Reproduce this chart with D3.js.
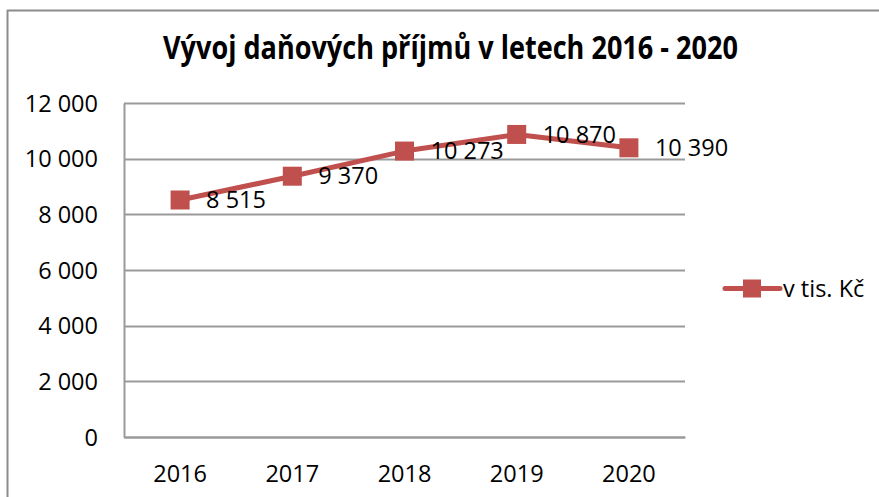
<!DOCTYPE html>
<html><head><meta charset="utf-8">
<script src="https://cdn.jsdelivr.net/npm/d3@7"></script>
<style>
html,body{margin:0;padding:0;background:#fff;}
svg text{font-family:"Open Sans","DejaVu Sans",sans-serif;fill:#000;}
</style></head>
<body>
<svg id="chart" width="879" height="497"></svg>
<script>
const title = "Vývoj daňových příjmů v letech 2016 - 2020";
const categories = ["2016", "2017", "2018", "2019", "2020"];
const values = [8515, 9370, 10273, 10870, 10390];
const seriesName = "v tis. Kč";
const yTicks = [0, 2000, 4000, 6000, 8000, 10000, 12000];

const svg = d3.select("#chart");
const color = "#c0504d";
const grid = "#9a9a9a";
const fmt = v => d3.format(",")(v).replace(/,/g, " ");

// outer frame (top and left visible)
svg.append("line").attr("x1", 7).attr("x2", 879).attr("y1", 10.5).attr("y2", 10.5)
  .attr("stroke", "#8c8c8c").attr("stroke-width", 2);
svg.append("line").attr("x1", 7.5).attr("x2", 7.5).attr("y1", 10).attr("y2", 497)
  .attr("stroke", "#8c8c8c").attr("stroke-width", 2);

// title (slightly condensed look: fit width, stretch height)
const t = svg.append("text").attr("transform", "translate(450.5,59) scale(1,1.2)")
  .attr("text-anchor", "middle")
  .style("font-weight", "bold").style("font-size", "24px").text(title);
const tw = t.node().getComputedTextLength();
t.style("font-size", (24 * 575 / tw) + "px");

const pLeft = 124, pRight = 685, pTop = 103, pBottom = 437;
const x = d3.scaleBand().domain(categories).range([pLeft, pRight]);
const y = d3.scaleLinear().domain([0, 12000]).range([pBottom, pTop]);

// gridlines
svg.append("g").selectAll("line").data(yTicks).join("line")
  .attr("x1", pLeft).attr("x2", pRight)
  .attr("y1", d => Math.round(y(d)) + 0.5).attr("y2", d => Math.round(y(d)) + 0.5)
  .attr("stroke", grid).attr("stroke-width", 2);

// y axis
const yAxis = svg.append("g").attr("transform", `translate(${pLeft},0)`)
  .call(d3.axisLeft(y).tickValues(yTicks).tickSize(0).tickPadding(26).tickFormat(fmt));
yAxis.select(".domain").attr("stroke", grid).attr("stroke-width", 2);
yAxis.selectAll("text").style("font-size", "23.5px").attr("dy", "0.35em");

// x axis
const xAxis = svg.append("g").attr("transform", `translate(0,${pBottom})`)
  .call(d3.axisBottom(x).tickSize(0).tickPadding(28));
xAxis.select(".domain").attr("stroke", grid).attr("stroke-width", 2);
xAxis.selectAll("text").style("font-size", "23.5px");

const cx = d => x(d) + x.bandwidth() / 2;
const data = categories.map((c, i) => ({c, v: values[i]}));

// line
svg.append("path").datum(data)
  .attr("d", d3.line().x(d => cx(d.c)).y(d => y(d.v)))
  .attr("fill", "none").attr("stroke", color).attr("stroke-width", 5).attr("stroke-linejoin", "round");

// markers
const ms = 19;
svg.append("g").selectAll("rect").data(data).join("rect")
  .attr("x", d => cx(d.c) - ms / 2).attr("y", d => y(d.v) - ms / 2)
  .attr("width", ms).attr("height", ms).attr("fill", color);

// labels
svg.append("g").selectAll("text").data(data).join("text")
  .attr("x", d => cx(d.c) + 26).attr("y", d => y(d.v)).attr("dy", "0.35em")
  .style("font-size", "23.5px").text(d => fmt(d.v));

// legend
const ly = 288.5;
svg.append("line").attr("x1", 725).attr("x2", 780).attr("y1", ly).attr("y2", ly)
  .attr("stroke", color).attr("stroke-width", 5).attr("stroke-linecap", "round");
svg.append("rect").attr("x", 752 - 9).attr("y", ly - 9).attr("width", 18).attr("height", 18).attr("fill", color);
svg.append("text").attr("x", 783).attr("y", ly).attr("dy", "0.35em").style("font-size", "23.5px").text(seriesName);
</script>
</body></html>
